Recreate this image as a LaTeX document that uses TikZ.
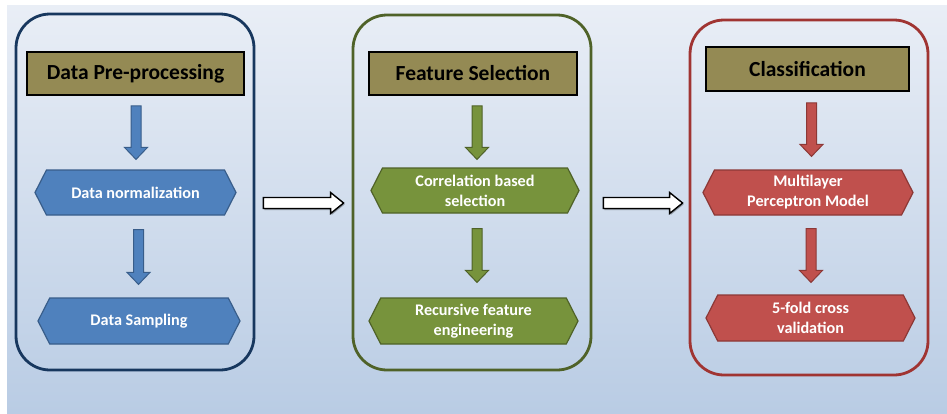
\documentclass[tikz,border=0pt]{standalone}
\usepackage{fontspec}
\setmainfont{Carlito}
\usetikzlibrary{calc,shapes.symbols,shadows}

\definecolor{bgtop}{RGB}{233,238,246}
\definecolor{bgbot}{RGB}{185,204,228}
\definecolor{navyline}{RGB}{23,55,94}
\definecolor{greenline}{RGB}{79,98,40}
\definecolor{redline}{RGB}{160,52,50}
\definecolor{olivehead}{RGB}{148,138,84}
\definecolor{bluefill}{RGB}{79,129,189}
\definecolor{blueedge}{RGB}{56,93,138}
\definecolor{greenfill}{RGB}{119,147,60}
\definecolor{greenedge}{RGB}{79,98,40}
\definecolor{redfill}{RGB}{192,80,77}
\definecolor{rededge}{RGB}{140,56,54}

% vertical block arrow from #2 (top of shaft) down to #3 (tip)
\newcommand\vblockarrow[3]{%
  \draw[#1] let \p1=(#2), \p2=(#3) in
    (\x1-5pt,\y1) -- (\x1+5pt,\y1) -- (\x1+5pt,\y2+12pt) -- (\x1+11.5pt,\y2+12pt)
    -- (\x1,\y2) -- (\x1-11.5pt,\y2+12pt) -- (\x1-5pt,\y2+12pt) -- cycle;}

% horizontal block arrow from #2 (tail) right to #3 (tip)
\newcommand\hblockarrow[3]{%
  \draw[#1] let \p1=(#2), \p2=(#3) in
    (\x1,\y1+5.5pt) -- (\x2-13pt,\y1+5.5pt) -- (\x2-13pt,\y1+10.5pt) -- (\x2,\y1)
    -- (\x2-13pt,\y1-10.5pt) -- (\x2-13pt,\y1-5.5pt) -- (\x1,\y1-5.5pt) -- cycle;}

\tikzset{
  panel/.style={draw, rounded corners=34pt, line width=2.8pt, inner sep=0pt,
    minimum width=238pt, minimum height=355pt},
  stagehead/.style={draw=black, line width=1.8pt, fill=olivehead, inner sep=0pt,
    minimum height=43pt, font=\bfseries\fontsize{21.5}{24}\selectfont},
  hexbox/.style={signal, signal to=west and east, signal pointer angle=126,
    inner sep=0pt, minimum height=45pt, line width=1.2pt, text=white, align=center,
    font=\bfseries\fontsize{16.2}{20}\selectfont},
  bluestep/.style={hexbox, fill=bluefill, draw=blueedge},
  greenstep/.style={hexbox, fill=greenfill, draw=greenedge},
  redstep/.style={hexbox, fill=redfill, draw=rededge},
  bluearrow/.style={fill=bluefill, draw=blueedge, line width=1pt},
  greenarrow/.style={fill=greenfill, draw=greenedge, line width=1pt},
  redarrow/.style={fill=redfill, draw=rededge, line width=1pt},
  linkarrow/.style={fill=white, draw=black, line width=1.4pt,
    drop shadow={shadow xshift=1pt, shadow yshift=-1.5pt, fill=black, opacity=0.3}},
}

\begin{document}
\begin{tikzpicture}[x=1pt, y=-1pt]
\useasboundingbox (0,0) rectangle (947,413);
\fill[white] (0,0) rectangle (947,413);
\shade[top color=bgtop, bottom color=bgbot] (7,5) rectangle (947,413);

% stage frames
\node[panel, draw=navyline, minimum height=356pt] (p1) at (135,192) {};
\node[panel, draw=greenline] (p2) at (472,192.5) {};
\node[panel, draw=redline] (p3) at (809,197.5) {};

% stage titles
\node[stagehead, minimum width=217pt] (t1) at (135.5,73.5) {Data Pre-processing};
\node[stagehead, minimum width=208pt] (t2) at (473,73.5) {Feature Selection};
\node[stagehead, minimum width=203pt, minimum height=44pt] (t3) at (807.5,69) {Classification};

% steps
\node[bluestep, minimum width=201pt] (h1a) at (135.5,192.5) {Data normalization};
\node[bluestep, minimum width=202pt, minimum height=46pt] (h1b) at (139,321) {Data Sampling};
\node[greenstep, minimum width=208pt] (h2a) at (475,190.5) {Correlation based\\selection};
\node[greenstep, minimum width=209pt, minimum height=46pt] (h2b) at (473.5,321) {Recursive feature\\engineering};
\node[redstep, minimum width=210pt] (h3a) at (808,192.5) {Multilayer\\Perceptron Model};
\node[redstep, minimum width=209pt, minimum height=46pt] (h3b) at (810.5,318) {5-fold cross\\validation};

% arrows inside the stages
\vblockarrow{bluearrow}{$(t1.south)+(0.5,10)$}{$(h1a.north)+(0,-10)$}
\vblockarrow{bluearrow}{$(h1a.south)+(3,14)$}{$(h1b.north)+(0,-13)$}
\vblockarrow{greenarrow}{$(t2.south)+(4,10)$}{$(h2a.north)+(0,-8)$}
\vblockarrow{greenarrow}{$(h2a.south)+(2,15)$}{$(h2b.north)+(0,-15)$}
\vblockarrow{redarrow}{$(t3.south)+(4,11)$}{$(h3a.north)+(0,-13)$}
\vblockarrow{redarrow}{$(h3a.south)+(3,13)$}{$(h3b.north)+(0,-12)$}

% arrows between the stages
\hblockarrow{linkarrow}{$(p1.east)+(8,11)$}{$(p2.west)+(-8,11)$}
\hblockarrow{linkarrow}{$(p2.east)+(11,10.5)$}{$(p3.west)+(-6,10.5)$}
\end{tikzpicture}
\end{document}
